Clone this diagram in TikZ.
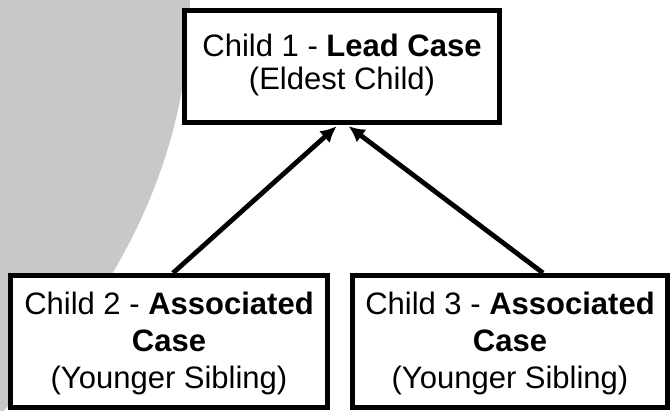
\documentclass[tikz,border=0pt]{standalone}
\usepackage{fontspec}
\setmainfont{Liberation Sans}
\usetikzlibrary{arrows.meta}
\definecolor{bggray}{RGB}{200,200,200}
\newcommand{\boxlines}[2]{\raisebox{#1}[\height][\depth]{\begin{tabular}{@{}c@{}}#2\end{tabular}}}
\tikzset{
  casebox/.style={draw=black, fill=white, line width=5pt, inner sep=0pt,
    align=center},
  linkarrow/.style={line width=4.8pt, -{Latex[length=16pt,width=16pt]}, shorten >=2pt}
}
\begin{document}
\begin{tikzpicture}[x=1pt,y=1pt]
\useasboundingbox (0,0) rectangle (671,410);
\begin{scope}
  \clip (0,0) rectangle (671,410);
  \fill[bggray] (-800,410) ellipse [x radius=990, y radius=703];
\end{scope}
\node[casebox, minimum width=315pt, minimum height=112pt, font=\fontsize{31}{33}\selectfont] (b1) at (342,343.5)
  {\boxlines{0pt}{Child 1 - \textbf{Lead Case}\\(Eldest Child)}};
\node[casebox, minimum width=317pt, minimum height=132pt, font=\fontsize{31}{37}\selectfont] (b2) at (169,68.5)
  {\boxlines{-3pt}{Child 2 - \textbf{Associated}\\\textbf{Case}\\(Younger Sibling)}};
\node[casebox, minimum width=315pt, minimum height=132pt, font=\fontsize{31}{37}\selectfont] (b3) at (510,68.5)
  {\boxlines{-3pt}{Child 3 - \textbf{Associated}\\\textbf{Case}\\(Younger Sibling)}};
\draw[linkarrow] ([xshift=4pt]b2.north) -- ([xshift=-4pt]b1.south);
\draw[linkarrow] ([xshift=33pt]b3.north) -- ([xshift=5pt]b1.south);
\end{tikzpicture}
\end{document}
